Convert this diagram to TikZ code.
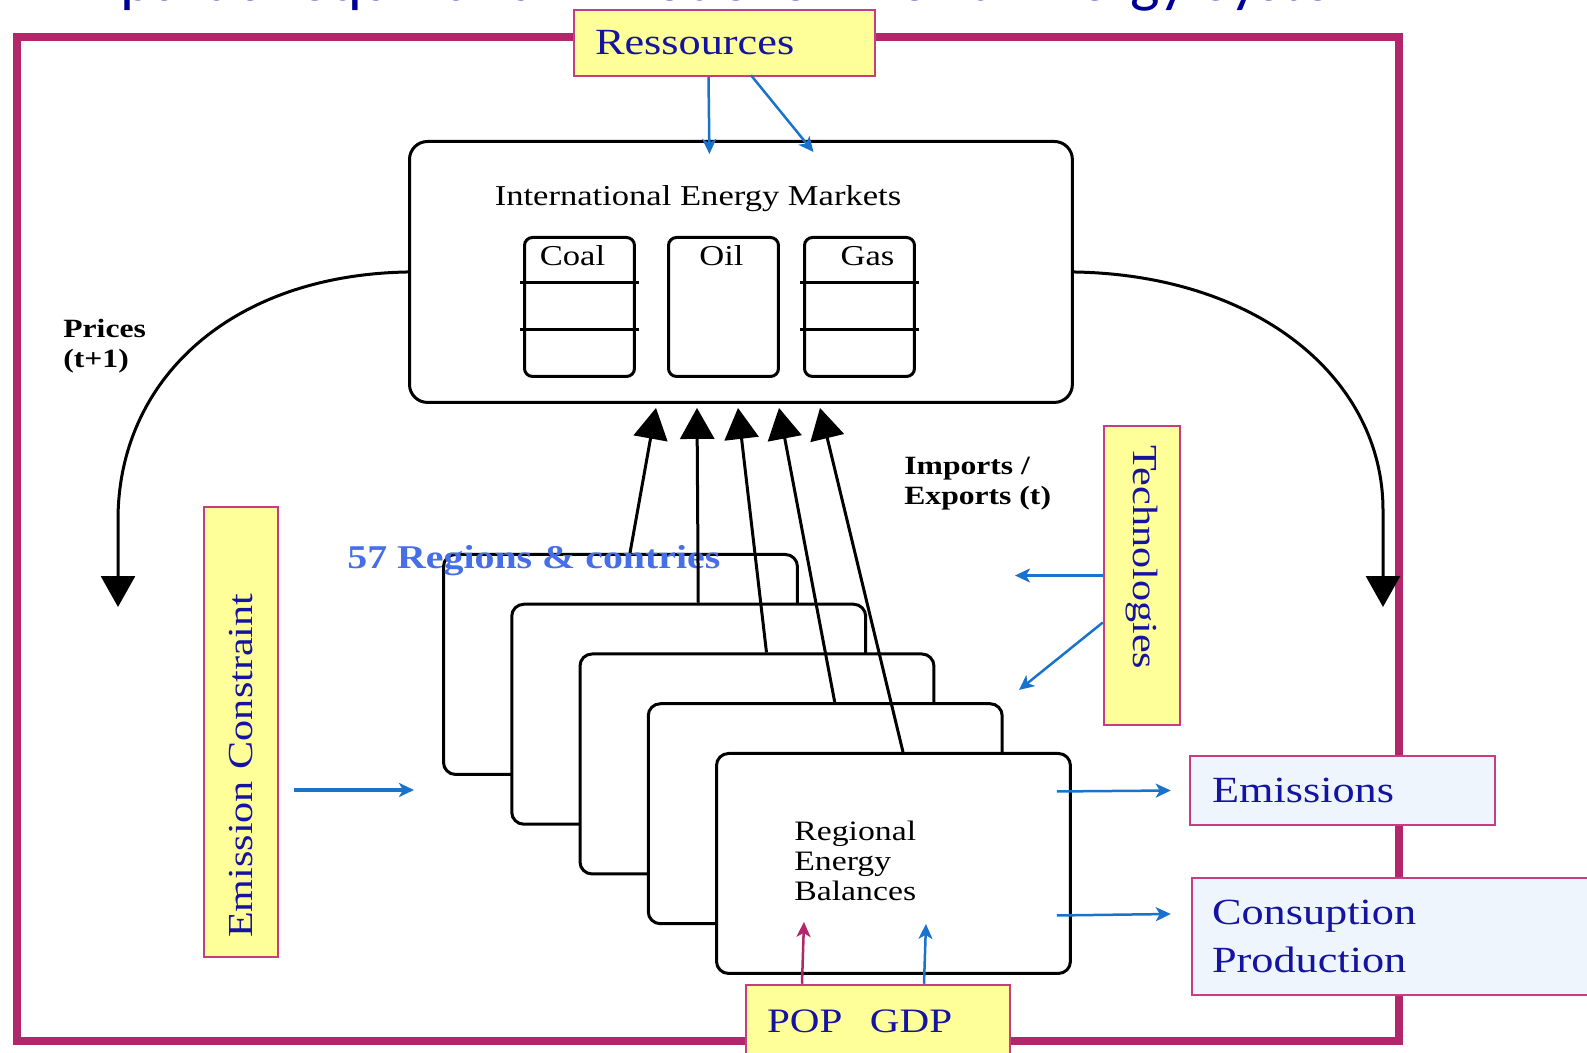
\documentclass[tikz,border=0pt]{standalone}
\usepackage{fontspec}
\setmainfont{Liberation Serif}[FakeStretch=1.2]
\newfontfamily\titlefont{Carlito}
\usetikzlibrary{arrows.meta,positioning,calc}
\definecolor{framemag}{RGB}{178,38,108}
\definecolor{edgemag}{RGB}{200,60,130}
\definecolor{paleyel}{RGB}{255,255,153}
\definecolor{paleblue}{RGB}{238,245,253}
\definecolor{inkblue}{RGB}{20,20,160}
\definecolor{arrowblue}{RGB}{25,115,205}
\definecolor{regblue}{RGB}{70,110,230}
\definecolor{titleblue}{RGB}{0,0,150}
\tikzset{
  mkt/.style={draw, line width=0.06cm, rounded corners=0.36cm, fill=white,
              minimum width=13.26cm, minimum height=5.22cm, anchor=north west, inner sep=0pt},
  fuel/.style={draw, line width=0.06cm, rounded corners=0.16cm,
              minimum width=2.2cm, minimum height=2.78cm, anchor=north west, inner sep=0pt},
  region/.style={draw, line width=0.06cm, rounded corners=0.24cm, fill=white,
              minimum width=7.08cm, minimum height=4.4cm, anchor=north west, inner sep=0pt},
  txt/.style={inner sep=0pt, font=\fontsize{16.4}{18}\selectfont},
  boldtxt/.style={inner sep=0pt, align=left, font=\bfseries\fontsize{15}{17}\selectfont},
  ybox/.style={draw=edgemag, line width=0.05cm, fill=paleyel, text=inkblue, align=left,
              inner ysep=0pt, font=\fontsize{21}{27.3}\selectfont},
  bbox/.style={ybox, fill=paleblue},
  regionlbl/.style={inner sep=0pt, text=regblue, font=\bfseries\fontsize{18.9}{22}\selectfont},
  heading/.style={inner sep=0pt, text=titleblue, font=\titlefont\fontsize{35.6}{40}\selectfont},
  bigarrow/.style={-{Triangle[width=0.68cm,length=0.62cm]}, line width=0.06cm},
  barrow/.style={-{Stealth[length=0.3cm,width=0.28cm,inset=0.08cm]}, arrowblue, line width=0.05cm},
  marrow/.style={barrow, framemag},
}
\begin{document}
\begin{tikzpicture}[x=0.02cm, y=-0.02cm]
  \useasboundingbox (0,0) rectangle (1587,1053);
  \clip (0,0) rectangle (1587,1053);
  % heading, cut by the top edge
  \node[heading, anchor=base west] (title) at (120,1) {partial equilibrium model of World Energy System};
  % outer frame
  \draw[framemag, line width=0.16cm] (17,37) rectangle (1399,1041);

  % world markets
  \node[mkt] (iem) at (408,140) {};
  \node[txt, anchor=base] (iemtitle) at (698,206) {International Energy Markets};
  \foreach \f/\x/\dx/\t in {coal/523/-7/Coal, oil/667/-2/Oil, gas/803/8/Gas} {
    \node[fuel] (\f) at (\x,236) {};
    \node[txt, anchor=base] (lbl\f) at ($(\f.north)+(\dx,30)$) {\t};
  }
  \foreach \f in {coal,gas}
    \foreach \d in {47,94}
      \draw[line width=0.06cm] ($(\f.north west)+(-3,\d)$) -- ($(\f.north east)+(3,\d)$);

  % stack of regions
  \foreach \i in {1,...,5}
    \node[region] (reg\i) at ({442+68.25*(\i-1)},{553+49.75*(\i-1)}) {};
  \node[txt, align=left, anchor=west, font=\fontsize{16}{17}\selectfont] (rebtxt) at (794,861) {Regional\\Energy\\Balances};
  \node[regionlbl, anchor=base west] (reglbl) at (347,569) {57 Regions \& contries};
  \foreach \i in {1,...,5}
    \draw[bigarrow] ($(reg\i.north west)+(188,0)$) -- ($(iem.south west)+({248+41*(\i-1)},4)$);

  % prices loop
  \coordinate (pricel) at (118,607);
  \coordinate (pricer) at (1383,607);
  \draw[bigarrow] (iem.west) .. controls (230,275) and (118,380) .. (118,520) -- (pricel);
  \draw[bigarrow] (iem.east) .. controls (1260,275) and (1383,380) .. (1383,510) -- (pricer);
  \node[boldtxt, anchor=west] (prices) at (63,346) {Prices\\(t+1)};
  \node[boldtxt, anchor=west] (impexp) at (904,484) {Imports /\\Exports (t)};

  % inputs and outputs
  \node[ybox, inner xsep=0.42cm, text width=5.18cm, minimum height=1.32cm] (res) at (724.5,43) {Ressources};
  \node[bbox, inner xsep=0.44cm, text width=5.22cm, minimum height=1.38cm] (emis) at (1342.5,790.5) {Emissions};
  \node[bbox, inner xsep=0.4cm, text width=7.36cm, minimum height=2.34cm] (cons) at (1396,936.5) {Consuption\\Production};
  \node[ybox, inner xsep=0.42cm, text width=4.44cm, minimum height=1.46cm,
        font=\fontsize{19.5}{24}\selectfont] (popgdp) at (878,1021.5) {POP\hspace{0.55cm}GDP};
  \node[ybox, rotate=90, inner xsep=0.38cm, text width=8.24cm, minimum height=1.48cm,
        font=\fontsize{20}{24}\selectfont] (emc) at (241,732) {Emission Constraint};
  \node[ybox, rotate=-90, inner xsep=0.38cm, text width=5.22cm, minimum height=1.52cm,
        font=\fontsize{20}{24}\selectfont] (tech) at (1142,575.5) {Technologies};

  \coordinate (ecend) at (414,790);
  \coordinate (techa) at (1015,575.5);
  \coordinate (techb) at (1019,690);
  \draw[barrow] ($(res.south)+(-16,0)$) -- ($(iem.north)+(-31.5,14)$);
  \draw[barrow] ($(res.south)+(26.5,-2)$) -- ($(iem.north)+(72.5,12)$);
  \draw[barrow, line width=0.075cm] ($(emc.south)+(15,58)$) -- (ecend);
  \draw[barrow] (tech.south) -- (techa);
  \draw[barrow] ($(tech.south)+(0,47)$) -- (techb);
  \draw[barrow] ($(reg5.east)+(-15,-72)$) -- ($(emis.west)+(-18,0)$);
  \draw[barrow] ($(reg5.east)+(-15,52)$) -- ($(cons.west)+(-20,-22.5)$);
  \draw[marrow] ($(popgdp.north)+(-76,0)$) -- ($(reg5.south)+(-89.5,-53)$);
  \draw[barrow] ($(popgdp.north)+(46,0)$) -- ($(reg5.south)+(32.5,-51)$);
\end{tikzpicture}
\end{document}
